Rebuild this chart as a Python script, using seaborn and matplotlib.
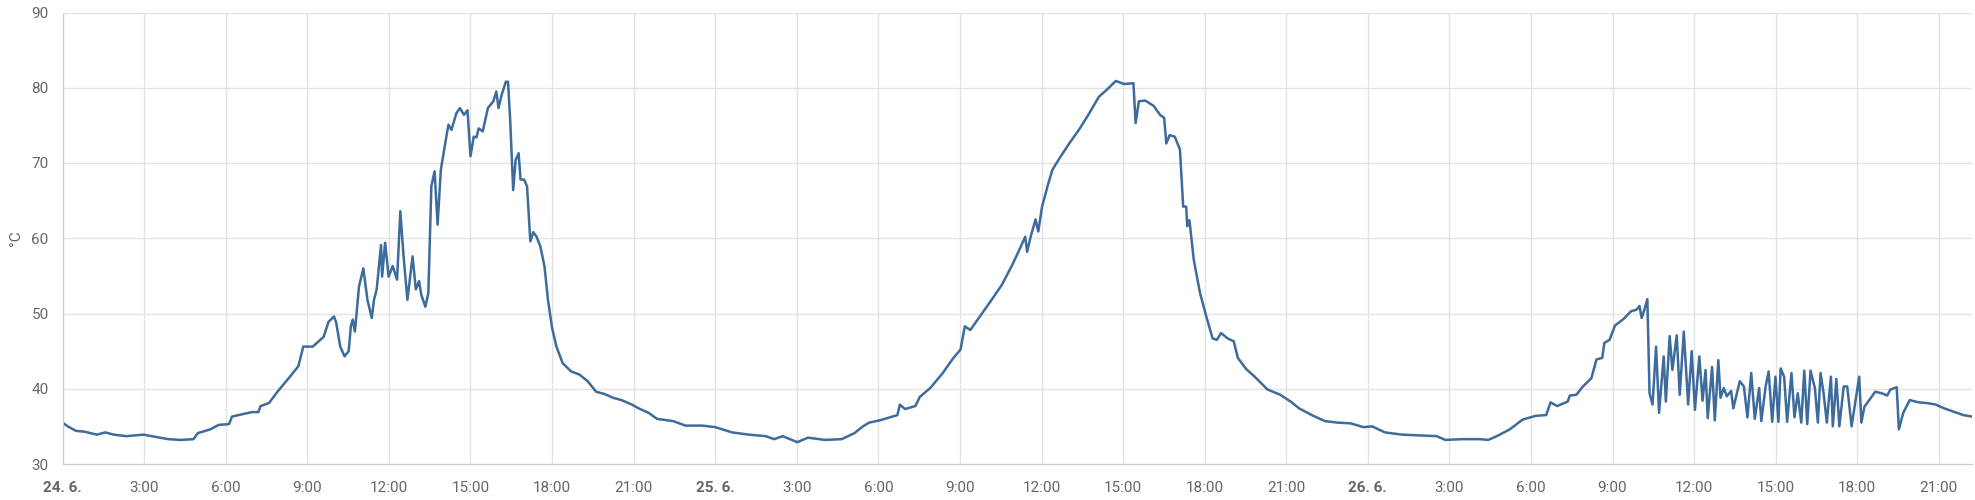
import pandas as pd
import numpy as np
import seaborn as sns
import matplotlib.pyplot as plt

# hours since 24.6. 00:00 and temperature (°C)
day1_hours = [0.0, 0.19, 0.49, 0.8, 1.26, 1.57, 1.88, 2.34, 2.65, 2.98, 3.42, 3.89, 4.35, 4.81, 4.97,
              5.43, 5.74, 6.12, 6.23, 6.59, 6.97, 7.2, 7.28, 7.59, 7.9, 8.36, 8.67, 8.85, 9.2, 9.6,
              9.78, 9.98, 10.06, 10.21, 10.37, 10.52, 10.6, 10.67, 10.75, 10.9, 11.06, 11.21, 11.37,
              11.45, 11.55, 11.71, 11.75, 11.86, 11.99, 12.14, 12.3, 12.42, 12.53, 12.68, 12.87,
              12.99, 13.11, 13.19, 13.34, 13.45, 13.56, 13.68, 13.79, 13.91, 14.07, 14.19, 14.3,
              14.48, 14.61, 14.76, 14.89, 15.0, 15.12, 15.22, 15.3, 15.45, 15.64, 15.84, 15.95,
              16.03, 16.15, 16.3, 16.38, 16.46, 16.57, 16.66, 16.77, 16.84, 16.97, 17.08, 17.2,
              17.31, 17.43, 17.57, 17.72, 17.85, 18.0, 18.16, 18.39, 18.7, 19.0, 19.31, 19.62,
              19.93, 20.24, 20.55, 20.93, 21.24, 21.55, 21.86]
day1_temp = [35.5, 35.0, 34.4, 34.3, 33.9, 34.2, 33.9, 33.7, 33.8, 33.9, 33.6, 33.3, 33.2, 33.3, 34.1,
             34.6, 35.2, 35.3, 36.3, 36.6, 36.9, 36.9, 37.7, 38.1, 39.6, 41.6, 43.0, 45.6, 45.6, 46.9,
             48.9, 49.6, 48.8, 45.6, 44.3, 45.0, 48.3, 49.2, 47.6, 53.6, 56.0, 51.8, 49.4,
             51.8, 53.2, 59.1, 54.9, 59.4, 54.9, 56.3, 54.5, 63.6, 58.0, 51.8, 57.6,
             53.2, 54.3, 52.5, 50.9, 52.7, 66.9, 68.9, 61.8, 69.1, 72.6, 75.1, 74.4,
             76.6, 77.3, 76.4, 77.0, 70.9, 73.5, 73.4, 74.6, 74.2, 77.3, 78.2, 79.5,
             77.3, 79.1, 80.8, 80.8, 75.7, 66.4, 70.4, 71.3, 67.8, 67.8, 66.9, 59.6,
             60.8, 60.2, 58.9, 56.3, 51.8, 48.1, 45.6, 43.4, 42.3, 41.9, 41.0, 39.6,
             39.3, 38.8, 38.5, 37.9, 37.3, 36.8, 36.0]

day2_hours = [22.45, 22.91, 23.53, 24.0, 24.62, 25.24, 25.86, 26.17, 26.48, 27.02, 27.41, 28.03,
              28.65, 29.12, 29.43, 29.66, 30.05, 30.51, 30.7, 30.79, 30.98, 31.36, 31.52, 31.91,
              32.37, 32.76, 33.02, 33.18, 33.38, 33.77, 34.16, 34.54, 34.93, 35.24, 35.4, 35.47,
              35.6, 35.78, 35.88, 36.02, 36.22, 36.4, 36.71, 37.02, 37.41, 37.72, 38.11, 38.42,
              38.73, 39.04, 39.38, 39.46, 39.58, 39.81, 40.12, 40.36, 40.51, 40.59, 40.71, 40.9,
              41.09, 41.21, 41.32, 41.36, 41.44, 41.6, 41.83, 42.06, 42.29, 42.45, 42.6, 42.84,
              43.07, 43.22, 43.53, 43.84, 44.31, 44.78, 45.16, 45.47]
day2_temp = [35.7, 35.1, 35.1, 34.9, 34.2, 33.9, 33.7, 33.3, 33.7, 32.9, 33.5, 33.2,
             33.3, 34.1, 35.0, 35.5, 35.8, 36.3, 36.5, 37.9, 37.3, 37.7, 38.9, 40.1,
             42.1, 44.1, 45.2, 48.3, 47.8, 49.8, 51.8, 53.8, 56.5, 58.9, 60.2, 58.2,
             60.2, 62.5, 60.9, 64.2, 66.9, 69.1, 70.9, 72.6, 74.6, 76.4, 78.8, 79.8,
             80.9, 80.5, 80.6, 75.3, 78.2, 78.3, 77.6, 76.4, 76.0, 72.6, 73.7, 73.5,
             71.8, 64.2, 64.2, 61.6, 62.4, 57.1, 52.7, 49.6, 46.7, 46.5, 47.4, 46.7,
             46.3, 44.1, 42.6, 41.6, 39.9, 39.2, 38.3, 37.4]

day3_hours = [45.94, 46.42, 46.89, 47.37, 47.84, 48.16, 48.63, 49.26, 49.9, 50.53, 50.85, 51.48,
              52.11, 52.43, 52.74, 53.22, 53.69, 54.17, 54.56, 54.72, 54.96, 55.35, 55.43, 55.67,
              55.91, 56.22, 56.41, 56.62, 56.7, 56.89, 57.09, 57.41, 57.68, 57.88, 57.99, 58.07,
              58.17, 58.28, 58.36, 58.47, 58.6, 58.71, 58.88, 58.96, 59.1, 59.2, 59.36, 59.47,
              59.62, 59.78, 59.91, 60.03, 60.19, 60.31, 60.42, 60.5, 60.66, 60.76, 60.89, 60.97,
              61.09, 61.2, 61.36, 61.44, 61.68, 61.83, 61.96, 62.1, 62.23, 62.39, 62.47, 62.63,
              62.74, 62.87, 62.99, 63.1, 63.18, 63.31, 63.42, 63.58, 63.69, 63.81, 63.94, 64.05,
              64.16, 64.28, 64.44, 64.55, 64.65, 64.76, 64.88, 65.03, 65.1, 65.23, 65.34, 65.5,
              65.63, 65.79, 66.07, 66.15, 66.26, 66.5, 66.66, 66.9, 67.1, 67.22, 67.45, 67.53,
              67.69, 67.93, 68.24, 68.56, 68.88, 69.19, 69.51, 69.9, 70.22]
day3_temp = [36.5, 35.7, 35.5, 35.4, 34.9, 35.0, 34.2, 33.9, 33.8, 33.7, 33.2, 33.3,
             33.3, 33.2, 33.7, 34.6, 35.9, 36.4, 36.5, 38.2, 37.7, 38.3, 39.1, 39.2,
             40.3, 41.4, 43.9, 44.1, 46.1, 46.5, 48.4, 49.3, 50.3, 50.5, 51.0, 49.4,
             50.5, 51.9, 39.4, 37.9, 45.6, 36.8, 44.3, 38.3, 47.0, 42.5, 47.1, 39.2,
             47.6, 37.9, 45.0, 37.2, 44.3, 38.4, 42.5, 36.1, 42.9, 35.8, 43.8, 38.8,
             40.1, 39.0, 39.7, 37.4, 41.0, 40.3, 36.2, 42.1, 36.0, 40.1, 35.7, 40.3,
             42.3, 35.6, 41.6, 35.6, 42.7, 41.6, 35.6, 42.1, 36.2, 39.4, 35.5, 42.4,
             35.3, 42.4, 40.1, 35.5, 42.1, 39.4, 35.5, 41.6, 35.0, 41.3, 35.0, 40.3,
             40.3, 35.0, 41.6, 35.5, 37.6, 38.8, 39.6, 39.4, 39.1, 39.9, 40.2, 34.6,
             36.8, 38.5, 38.2, 38.1, 37.9, 37.4, 37.0, 36.5, 36.3]

tick_hours = list(range(0, 70, 3))
day_labels = {0: "24. 6.", 24: "25. 6.", 48: "26. 6."}

df = pd.DataFrame({
    "hours": day1_hours + day2_hours + day3_hours,
    "temp": day1_temp + day2_temp + day3_temp,
})

sns.set_style("white")
plt.rcParams["font.family"] = ["Roboto", "DejaVu Sans"]

fig = plt.figure(figsize=(19.75, 5), dpi=100)
ax = fig.add_axes([0.0317, 0.072, 0.9668, 0.903])

sns.lineplot(data=df, x="hours", y="temp", color="#3d6b9c", linewidth=1.8, ax=ax)

ax.set_xlim(0, 70.22)
ax.set_ylim(30, 90)
ax.set_yticks(range(30, 91, 10))
ax.set_xticks(tick_hours)
labels = [day_labels.get(h, f"{h % 24}:00") for h in tick_hours]
ax.set_xticklabels(labels)
for h, lab in zip(tick_hours, ax.get_xticklabels()):
    if h in day_labels:
        lab.set_fontweight("bold")
        lab.set_color("#555555")

ax.grid(True, color="#e3e3e3", linewidth=1)
ax.tick_params(axis="x", colors="#cccccc", labelcolor="#666666", labelsize=11, length=7, width=1, pad=5)
ax.tick_params(axis="y", colors="#e3e3e3", labelcolor="#666666", labelsize=11, length=7, width=1, pad=3)

for side in ["top", "right"]:
    ax.spines[side].set_visible(False)
ax.spines["left"].set_color("#cccccc")
ax.spines["bottom"].set_color("#cccccc")

ax.set_xlabel("")
ax.set_ylabel("°C", color="#666666", fontsize=11, labelpad=6)

fig.savefig("out.png", dpi=100)
